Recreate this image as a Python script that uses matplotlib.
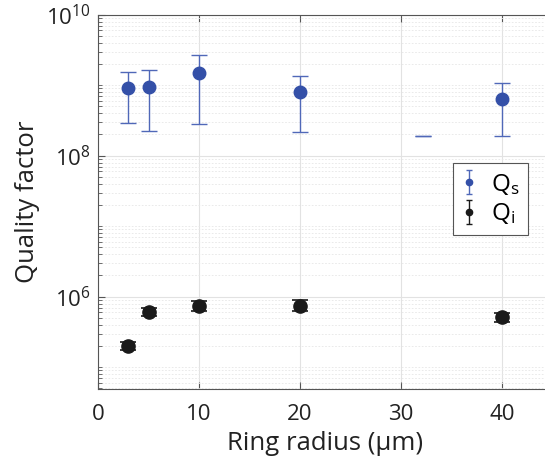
import numpy as np
import matplotlib.pyplot as plt
from matplotlib.ticker import FixedLocator, NullFormatter

plt.rcParams['font.family'] = ['Open Sans', 'DejaVu Sans']
plt.rcParams['mathtext.fontset'] = 'custom'
plt.rcParams['mathtext.rm'] = 'Open Sans'
plt.rcParams['mathtext.it'] = 'Open Sans:italic'

# signal Q (blue)
rs = [3, 5, 10, 20, 40]
qs = [9.2e8, 9.4e8, 1.49e9, 7.9e8, 6.4e8]
qs_hi = [1.55e9, 1.66e9, 2.71e9, 1.36e9, 1.08e9]
qs_lo = [2.9e8, 2.26e8, 2.82e8, 2.19e8, 1.92e8]

# lone cap near 32 um
rc = [32.2]
qc = [1.9e8]

# idler Q (black)
ri = [3, 5, 10, 20, 40]
qi = [2.0e5, 6.1e5, 7.4e5, 7.45e5, 5.1e5]
qi_hi = [2.3e5, 7.0e5, 8.8e5, 8.9e5, 5.9e5]
qi_lo = [1.75e5, 5.3e5, 6.3e5, 6.3e5, 4.4e5]

fig = plt.figure(figsize=(5.45, 4.73), dpi=100)
ax = fig.add_axes([98/545, 1 - 389/473, 454.5/545, (389 - 14.7)/473])

blue = '#3450a8'
eb = '#5068b8'
qs_err = [np.array(qs) - np.array(qs_lo), np.array(qs_hi) - np.array(qs)]
qi_err = [np.array(qi) - np.array(qi_lo), np.array(qi_hi) - np.array(qi)]

ax.errorbar(rs, qs, yerr=qs_err, fmt='o', color=blue, ecolor=eb, mfc=blue, mec=blue,
            ms=9, capsize=6, elinewidth=1, capthick=1, zorder=3)
ax.errorbar(rc, qc, yerr=[[0], [0]], fmt='none', ecolor=eb, capsize=6, capthick=1, zorder=3)
ax.errorbar(ri, qi, yerr=qi_err, fmt='o', color='#1a1a1a', ecolor='#1a1a1a', ms=9.5,
            capsize=6, elinewidth=1, capthick=1.2, zorder=3)

# legend proxies with small caps
hs = ax.errorbar([np.nan], [np.nan], yerr=[1], fmt='o', color=blue, ecolor=eb, ms=4.5,
                 capsize=2.5, elinewidth=1, capthick=1)
hi = ax.errorbar([np.nan], [np.nan], yerr=[1], fmt='o', color='#1a1a1a', ms=4.5,
                 capsize=2.5, elinewidth=1, capthick=1)

ax.set_yscale('log')
ax.set_xlim(0, 45)
ax.set_ylim(4.9e4, 1e10)
ax.set_xticks([0, 10, 20, 30, 40])
ax.set_yticks([1e6, 1e8, 1e10])
ax.set_yticklabels([r'$10^6$', r'$10^8$', r'$10^{10}$'])
minor = [m * 10.0**k for k in range(4, 10) for m in range(1, 10)]
minor = [v for v in minor if v not in (1e6, 1e8, 1e10)]
ax.yaxis.set_minor_locator(FixedLocator(minor))
ax.yaxis.set_minor_formatter(NullFormatter())

ax.grid(True, which='major', color='#e2e2e2', lw=0.8)
ax.grid(True, which='minor', axis='y', color='#e6e6e6', lw=0.6, ls=(0, (2, 2)))
ax.set_axisbelow(True)

for s in ax.spines.values():
    s.set_color('#555555')
    s.set_linewidth(0.8)
ax.spines['right'].set_visible(False)
ax.tick_params(which='both', direction='in', top=True, right=False, colors='#555555',
               labelcolor='#222222', labelsize=16)
ax.tick_params(which='major', length=5)
ax.tick_params(which='minor', length=3)
ax.tick_params(axis='x', pad=11)
ax.tick_params(axis='y', pad=5)

ax.set_xlabel('Ring radius (µm)', fontsize=18.5, color='#222222', labelpad=4)
ax.set_ylabel('Quality factor', fontsize=18.5, color='#222222', labelpad=5)

leg = ax.legend([hs, hi], [r'Q$_\mathrm{s}$', r'Q$_\mathrm{i}$'], loc='upper left',
                bbox_to_anchor=((453 - 98)/454.5, 1 - (163 - 14.7)/374.3),
                borderaxespad=0, fontsize=17.5, handlelength=0.6,
                handletextpad=0.6, borderpad=0.35, labelspacing=0.2,
                fancybox=False, framealpha=1)
leg.get_frame().set_edgecolor('#555555')
leg.get_frame().set_linewidth(0.8)

fig.savefig('out.png', dpi=100)
